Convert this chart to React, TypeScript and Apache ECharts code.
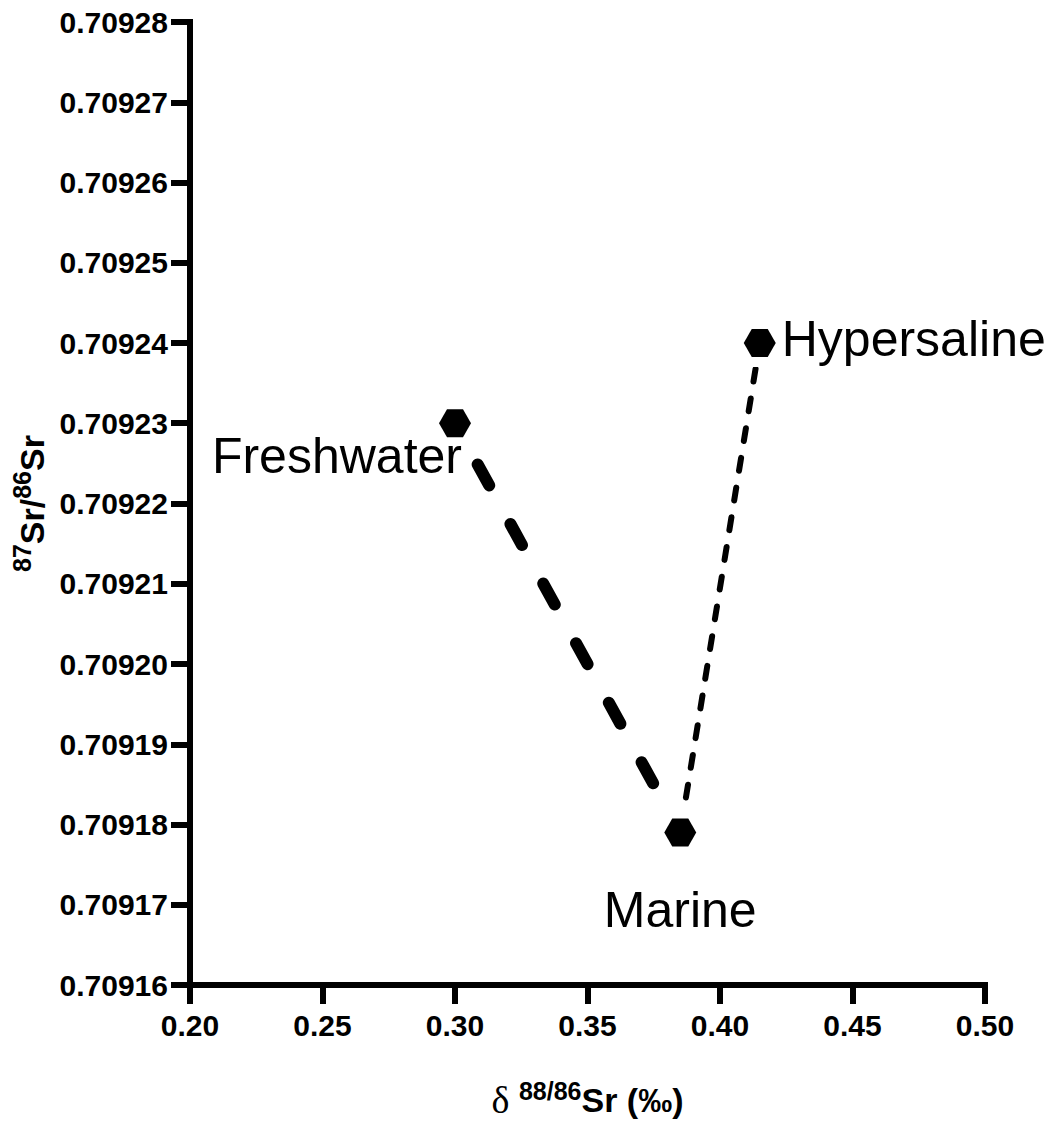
import React, { useEffect, useRef } from "react";
import * as echarts from "echarts";

// ---- data ----
const pointNames = ["Freshwater", "Marine", "Hypersaline"];
const xValues = [0.3, 0.385, 0.415];
const yValues = [0.70923, 0.709179, 0.70924];

// segments: [fromIndex, toIndex]
const thickSegment = [0, 1];
const thinSegment = [2, 1];

// axis ticks
const xTickValues = [0.2, 0.25, 0.3, 0.35, 0.4, 0.45, 0.5];
const yTickValues = [
  0.70916, 0.70917, 0.70918, 0.70919, 0.7092, 0.70921, 0.70922, 0.70923,
  0.70924, 0.70925, 0.70926, 0.70927, 0.70928,
];

const FONT = "'Liberation Sans', Arial, Helvetica, sans-serif";

const labelLayout: Record<string, any> = {
  Freshwater: { align: "right", offset: [7, 33] },
  Marine: { align: "center", offset: [0, 77] },
  Hypersaline: { align: "left", offset: [22, -4] },
};

const HEX = "path://M0,14 L8,0 L24,0 L32,14 L24,28 L8,28 Z";

export default function App() {
  const ref = useRef<HTMLDivElement>(null);

  useEffect(() => {
    document.body.style.margin = "0";
    if (!ref.current) return;
    const chart = echarts.init(ref.current, null, { renderer: "svg" });

    const seg = (s: number[]) => s.map((i) => [xValues[i], yValues[i]]);
    const points = pointNames.map((n, i) => [xValues[i], yValues[i]]);

    const xMin = xTickValues[0];
    const xMax = xTickValues[xTickValues.length - 1];
    const xInt = xTickValues[1] - xTickValues[0];
    const yMin = yTickValues[0];
    const yMax = yTickValues[yTickValues.length - 1];
    const yInt = 0.00001;

    const axisCommon = {
      axisLine: {
        show: true,
        onZero: false,
        lineStyle: { color: "#000", width: 6, cap: "square" },
      },
      axisTick: {
        show: true,
        inside: false,
        length: 19,
        lineStyle: { color: "#000", width: 6 },
      },
      splitLine: { show: false },
      axisLabel: {
        color: "#000",
        fontFamily: FONT,
        fontWeight: "bold",
        fontSize: 30,
      },
    };

    const supStyle = {
      fontFamily: FONT,
      fontWeight: "bold",
      fontSize: 25,
      lineHeight: 25,
      verticalAlign: "top",
      color: "#000",
    };
    const mainStyle = {
      fontFamily: FONT,
      fontWeight: "bold",
      fontSize: 34,
      lineHeight: 44,
      color: "#000",
    };

    chart.setOption({
      animation: false,
      backgroundColor: "#fff",
      grid: { left: 190, right: 69, top: 22, bottom: 136, containLabel: false },
      xAxis: {
        type: "value",
        min: xMin,
        max: xMax,
        interval: xInt,
        ...axisCommon,
        axisLabel: {
          ...axisCommon.axisLabel,
          margin: 25,
          formatter: (v: number) => v.toFixed(2),
        },
        name: "{d|δ }{sup|88/86}{b|Sr (‰)}",
        nameLocation: "middle",
        nameGap: 93,
        nameTextStyle: {
          rich: {
            d: {
              fontFamily: "'Liberation Serif', 'Times New Roman', serif",
              fontSize: 38,
              lineHeight: 44,
              color: "#000",
            },
            sup: supStyle,
            b: mainStyle,
          },
        },
      },
      yAxis: {
        type: "value",
        min: yMin,
        max: yMax,
        interval: yInt,
        ...axisCommon,
        axisLabel: {
          ...axisCommon.axisLabel,
          margin: 22,
          formatter: (v: number) => v.toFixed(5),
        },
        name: "{sup|87}{b|Sr/}{sup|86}{b|Sr}",
        nameLocation: "middle",
        nameGap: 134,
        nameTextStyle: {
          rich: { sup: supStyle, b: mainStyle },
        },
      },
      series: [
        {
          type: "line",
          data: seg(thickSegment),
          symbol: "none",
          showSymbol: false,
          lineStyle: {
            color: "#000",
            width: 12,
            type: [24, 44],
            dashOffset: 21,
            cap: "round",
          },
          z: 2,
        },
        {
          type: "line",
          data: seg(thinSegment),
          symbol: "none",
          showSymbol: false,
          lineStyle: {
            color: "#000",
            width: 6,
            type: [13, 17.1],
            dashOffset: 3.8,
            cap: "round",
          },
          z: 2,
        },
        {
          // white halo so the connecting lines stop short of the symbols
          type: "scatter",
          symbol: HEX,
          symbolSize: [52, 48],
          itemStyle: { color: "#fff", opacity: 1 },
          silent: true,
          z: 3,
          data: points,
        },
        {
          type: "scatter",
          symbol: HEX,
          symbolSize: [32, 28],
          itemStyle: { color: "#000", opacity: 1 },
          z: 4,
          data: pointNames.map((n, i) => ({
            name: n,
            value: [xValues[i], yValues[i]],
            label: {
              show: true,
              position: "inside",
              formatter: "{b}",
              color: "#000",
              opacity: 1,
              fontFamily: FONT,
              fontSize: 50,
              verticalAlign: "middle",
              ...labelLayout[n],
            },
          })),
        },
      ],
    });

    return () => chart.dispose();
  }, []);

  return (
    <div
      ref={ref}
      style={{ position: "absolute", left: 0, top: 0, width: 1054, height: 1124 }}
    />
  );
}
